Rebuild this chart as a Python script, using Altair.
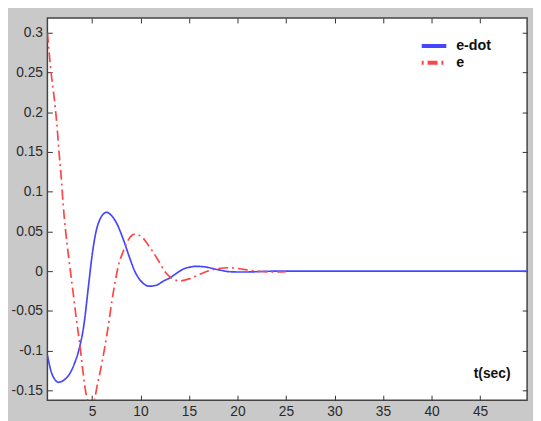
import altair as alt
import pandas as pd

# ---- data ----
series_names = ["e-dot", "e"]

t_edot = [0.4, 0.8, 1.2, 1.55, 2.0, 2.4, 2.8, 3.2, 3.65, 4.16, 4.67, 5.0, 5.35,
          5.85, 6.5, 7.0, 7.55, 8.22, 8.9, 9.4, 10.08, 10.9, 11.6, 12.3, 13.1,
          13.8, 14.5, 15.1, 15.7, 16.5, 17.9, 19.2, 20.5, 21.5, 23.0, 24.5,
          26.0, 30.0, 35.0, 40.0, 45.0, 50.0]
v_edot = [-0.106, -0.127, -0.137, -0.140, -0.138, -0.134, -0.127, -0.116,
          -0.099, -0.068, -0.015, 0.019, 0.046, 0.066, 0.074, 0.070, 0.060,
          0.040, 0.016, 0.000, -0.013, -0.019, -0.018, -0.013, -0.008, -0.002,
          0.003, 0.005, 0.006, 0.0055, 0.002, -0.0008, -0.0012, -0.001,
          -0.0003, 0.0, 0.0, 0.0, 0.0, 0.0, 0.0, 0.0]

t_e = [0.4, 0.78, 1.11, 1.35, 1.62, 1.85, 2.03, 2.3, 2.71, 3.04, 3.38, 3.75,
       4.06, 4.39, 4.7, 5.0, 5.25, 5.5, 5.85, 6.3, 6.69, 7.03, 7.44, 7.7, 8.22,
       8.73, 9.4, 10.08, 10.9, 11.77, 12.6, 13.46, 14.0, 15.2, 16.5, 17.9,
       19.2, 20.6, 21.9, 23.6, 25.0]
v_e = [0.300, 0.250, 0.217, 0.188, 0.147, 0.114, 0.083, 0.048, 0.006, -0.026,
       -0.060, -0.093, -0.126, -0.155, -0.168, -0.173, -0.163, -0.146, -0.126,
       -0.097, -0.068, -0.039, -0.010, 0.006, 0.025, 0.039, 0.0465, 0.0436,
       0.031, 0.0146, -0.002, -0.0105, -0.0125, -0.009, -0.002, 0.003, 0.0042,
       0.0022, 0.0, -0.001, -0.0006]

x_ticks = [5, 10, 15, 20, 25, 30, 35, 40, 45]
y_ticks = [-0.15, -0.1, -0.05, 0, 0.05, 0.1, 0.15, 0.2, 0.25, 0.3]
x_title = "t(sec)"

X_DOMAIN = [0.4, 49.85]
Y_DOMAIN = [-0.1625, 0.3186]

df = pd.concat([
    pd.DataFrame({"t": t_edot, "v": v_edot, "series": series_names[0]}),
    pd.DataFrame({"t": t_e, "v": v_e, "series": series_names[1]}),
], ignore_index=True)

W, H = 487, 388
FONT = "Liberation Sans"

xs = alt.Scale(domain=X_DOMAIN, nice=False, zero=False)
ys = alt.Scale(domain=Y_DOMAIN, nice=False, zero=False)

legend = alt.Legend(
    title=None, orient="none", legendX=384, legendY=20, padding=0,
    symbolType="M-2,0H2", symbolStrokeWidth=4, symbolSize=156,
    symbolDashOffset=14,
    labelFont=FONT, labelFontSize=14.5, labelFontWeight="bold",
    labelColor="#111111", labelOffset=14, rowPadding=0,
)

base = alt.Chart(df)

lines = base.mark_line(clip=True, strokeWidth=1.7, interpolate="monotone").encode(
    x=alt.X("t:Q", scale=xs, axis=alt.Axis(
        orient="bottom", values=x_ticks, ticks=False, tickSize=0, domain=False,
        grid=False, labelPadding=5, title=x_title, titleX=451, titleY=-27,
        titleFont=FONT, titleFontSize=14, titleFontWeight="bold",
        titleBaseline="middle", titleAlign="center", titleColor="#111111")),
    y=alt.Y("v:Q", scale=ys, axis=alt.Axis(
        orient="left", values=y_ticks, ticks=False, tickSize=0, domain=False,
        grid=False, labelPadding=5, labelExpr="'' + datum.value", title=None)),
    color=alt.Color("series:N", scale=alt.Scale(domain=series_names,
                    range=["#4646ff", "#ff4444"]), legend=legend),
    strokeDash=alt.StrokeDash("series:N", scale=alt.Scale(domain=series_names,
                              range=[[1, 0], [10, 4, 2, 4]]), legend=legend),
)

ticks_a = base.mark_point(opacity=0).encode(
    x=alt.X("t:Q", scale=xs, axis=alt.Axis(
        orient="top", offset=-H, values=x_ticks, labels=False, ticks=True,
        tickSize=5, domain=False, grid=False, title=None)),
    y=alt.Y("v:Q", scale=ys, axis=alt.Axis(
        orient="right", offset=-W, values=y_ticks, labels=False, ticks=True,
        tickSize=5, domain=False, grid=False, title=None)),
)

ticks_b = base.mark_point(opacity=0).encode(
    x=alt.X("t:Q", scale=xs, axis=alt.Axis(
        orient="bottom", offset=-H, values=x_ticks, labels=False, ticks=True,
        tickSize=5, domain=False, grid=False, title=None)),
    y=alt.Y("v:Q", scale=ys, axis=alt.Axis(
        orient="left", offset=-W, values=y_ticks, labels=False, ticks=True,
        tickSize=5, domain=False, grid=False, title=None)),
)

chart = alt.layer(lines, ticks_a, ticks_b).resolve_axis(
    x="independent", y="independent"
).properties(
    width=W, height=H,
    padding={"left": 40, "top": 7, "right": 6, "bottom": 18},
    autosize=alt.AutoSizeParams(type="none"),
    background="#c9c9c9",
).configure_view(
    fill="white", stroke="#444444", strokeWidth=1.5,
).configure_axis(
    labelFont=FONT, labelFontSize=14, labelColor="#2a2a2a",
    tickColor="#333333", tickWidth=1,
)

chart.save("out.html", embed_options={"renderer": "svg", "actions": False})
